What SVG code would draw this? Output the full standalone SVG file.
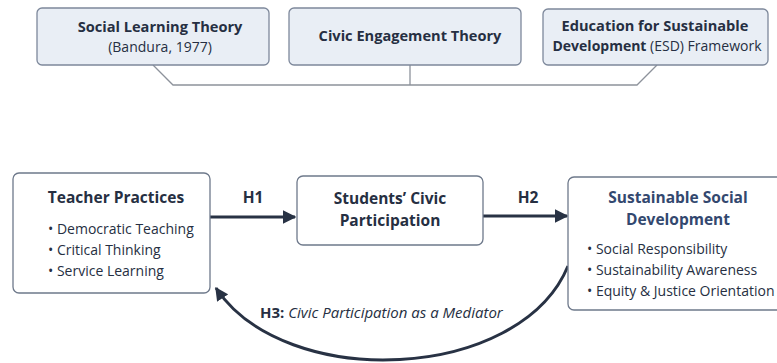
<svg xmlns="http://www.w3.org/2000/svg" width="777" height="363" viewBox="0 0 777 363">
<defs>
<style>
text{font-family:"Open Sans","Noto Sans","DejaVu Sans",sans-serif;fill:#262f42;}
.top{fill:#e9eef5;stroke:#7d889b;stroke-width:1.3;}
.box{fill:#ffffff;stroke:#6e798b;stroke-width:1.3;}
.b{font-weight:700;}
.t15{font-size:15.5px;}
.t14{font-size:14.6px;}
.t13{font-size:14px;}
.link{fill:none;stroke:#8d929b;stroke-width:1.3;}
.arr{fill:none;stroke:#283244;stroke-width:3;}
.ssd{fill:#33486f;}
</style>
<marker id="ah" viewBox="0 0 10 10" refX="9" refY="5" markerWidth="4.5" markerHeight="4.5" orient="auto" markerUnits="strokeWidth">
<path d="M0,0 L10,5 L0,10 z" fill="#283244"/>
</marker>
</defs>
<rect width="777" height="363" fill="#ffffff"/>
<g id="connectors">
<path class="link" d="M153,65 L173,85 L637,85 L657,65"/>
<path class="link" d="M410,64 L410,85"/>
<path class="arr" d="M210,217 L295,217" marker-end="url(#ah)"/>
<path class="arr" d="M483,216 L567,216" marker-end="url(#ah)"/>
<path class="arr" d="M568,266 C520,382 285,392 216,288" marker-end="url(#ah)"/>
<text x="253" y="203" text-anchor="middle" class="b t15">H1</text>
<text x="528" y="203" text-anchor="middle" class="b t15">H2</text>
<text x="260" y="318" font-size="15"><tspan class="b">H3:</tspan><tspan font-style="italic"> Civic Participation as a Mediator</tspan></text>
</g>
<g id="slt">
<rect class="top" x="37" y="8" width="232" height="57" rx="5"/>
<text x="160" y="32" text-anchor="middle" class="b t14">Social Learning Theory</text>
<text x="160" y="52" text-anchor="middle" class="t13">(Bandura, 1977)</text>
</g>
<g id="cet">
<rect class="top" x="289" y="8" width="232" height="57" rx="5"/>
<text x="410" y="41" text-anchor="middle" class="b t14">Civic Engagement Theory</text>
</g>
<g id="esd">
<rect class="top" x="543" y="9" width="225" height="56" rx="5"/>
<text x="655" y="31" text-anchor="middle" class="b t14">Education for Sustainable</text>
<text x="657" y="51" text-anchor="middle" font-size="14"><tspan class="b">Development</tspan> (ESD) Framework</text>
</g>
<g id="teacher">
<rect class="box" x="13" y="173" width="197" height="120" rx="6"/>
<text x="116" y="203" text-anchor="middle" class="b t15">Teacher Practices</text>
<text x="48" y="234" class="t13">• Democratic Teaching</text>
<text x="48" y="255" class="t13">• Critical Thinking</text>
<text x="48" y="276" class="t13">• Service Learning</text>
</g>
<g id="students">
<rect class="box" x="297" y="176" width="186" height="69" rx="6"/>
<text x="390" y="204" text-anchor="middle" class="b t15">Students’ Civic</text>
<text x="390" y="226" text-anchor="middle" class="b t15">Participation</text>
</g>
<g id="ssd">
<rect class="box" x="568" y="177" width="216" height="133" rx="6"/>
<text x="678" y="203" text-anchor="middle" class="b t15 ssd">Sustainable Social</text>
<text x="678" y="225" text-anchor="middle" class="b t15 ssd">Development</text>
<text x="587" y="254" class="t13">• Social Responsibility</text>
<text x="587" y="275" class="t13">• Sustainability Awareness</text>
<text x="587" y="296" class="t13">• Equity &amp; Justice Orientation</text>
</g>
</svg>
